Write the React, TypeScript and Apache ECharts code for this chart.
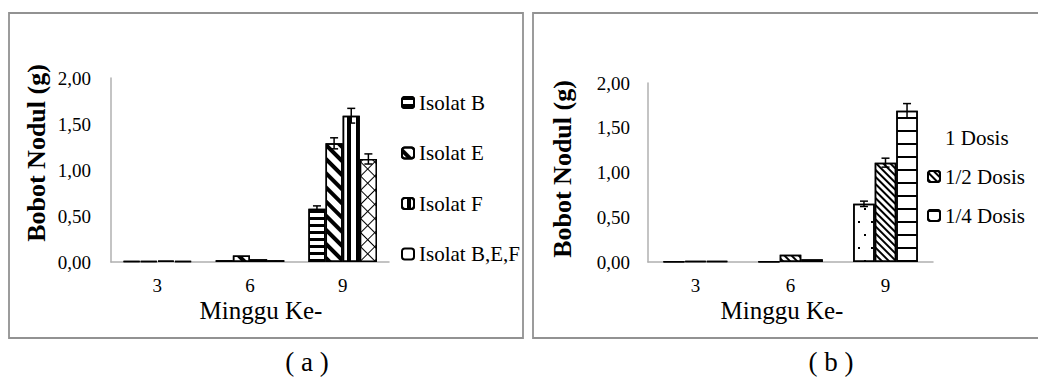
import React, { useEffect, useRef } from "react";
import * as echarts from "echarts";

const weeks = ["3", "6", "9"];

const seriesNamesA = ["Isolat B", "Isolat E", "Isolat F", "Isolat B,E,F"];
const isolatB = [0.01, 0.02, 0.58];
const isolatE = [0.01, 0.07, 1.29];
const isolatF = [0.015, 0.03, 1.59];
const isolatBEF = [0.01, 0.02, 1.12];
const errIsolatB = [0, 0, 0.03];
const errIsolatE = [0, 0, 0.06];
const errIsolatF = [0, 0, 0.08];
const errIsolatBEF = [0, 0, 0.055];

const seriesNamesB = ["1 Dosis", "1/2 Dosis", "1/4 Dosis"];
const dosis1 = [0.005, 0.003, 0.65];
const dosisHalf = [0.01, 0.08, 1.11];
const dosisQuarter = [0.01, 0.03, 1.69];
const errDosis1 = [0, 0, 0.03];
const errDosisHalf = [0, 0, 0.05];
const errDosisQuarter = [0, 0, 0.08];

const yTicks = [0, 0.5, 1, 1.5, 2];

const FONT = "Liberation Serif, Times New Roman, serif";

const gapA = 0.26;
const gapB = 0.32;

function errorSeries(
  name: string,
  axisIndex: number,
  values: number[][],
  errs: number[][],
  gap: number
) {
  const n = values.length;
  const data: number[][] = [];
  values.forEach((vals, i) => {
    vals.forEach((v, j) => {
      const e = errs[i][j];
      if (e > 0) data.push([j, v, e, i]);
    });
  });
  return {
    type: "custom",
    name,
    xAxisIndex: axisIndex,
    yAxisIndex: axisIndex,
    z: 10,
    silent: true,
    encode: { x: 0, y: 1 },
    data,
    renderItem: (params: any, api: any) => {
      const j = api.value(0);
      const v = api.value(1);
      const e = api.value(2);
      const i = api.value(3);
      const band = api.size([1, 0])[0];
      const group = band * (1 - gap);
      const bw = group / n;
      const base = api.coord([j, v]);
      const cx = base[0] - group / 2 + bw * (i + 0.5);
      const yTop = api.coord([j, v + e])[1];
      const yBot = api.coord([j, v - e])[1];
      const st = { stroke: "#000", lineWidth: 1.5 };
      return {
        type: "group",
        children: [
          { type: "line", shape: { x1: cx, y1: yTop, x2: cx, y2: yBot }, style: st },
          { type: "line", shape: { x1: cx - 4, y1: yTop, x2: cx + 4, y2: yTop }, style: st },
          { type: "line", shape: { x1: cx - 4, y1: yBot, x2: cx + 4, y2: yBot }, style: st },
        ],
      };
    },
  };
}

function barSeries(name: string, axisIndex: number, data: number[], gap: number, itemStyle: any) {
  return {
    type: "bar",
    name,
    xAxisIndex: axisIndex,
    yAxisIndex: axisIndex,
    data,
    barGap: "0%",
    barCategoryGap: `${gap * 100}%`,
    itemStyle: Object.assign({ borderColor: "#000", borderWidth: 1.5, color: "#fff" }, itemStyle),
  };
}

const decalHStripe = {
  symbol: "rect",
  symbolSize: 1,
  color: "#000",
  dashArrayX: [1, 0],
  dashArrayY: [3, 3.5],
};
const decalDiagThick = {
  symbol: "rect",
  symbolSize: 1,
  color: "#000",
  dashArrayX: [1, 0],
  dashArrayY: [4, 6],
  rotation: Math.PI / 4,
};
const decalVStripe = {
  symbol: "rect",
  symbolSize: 1,
  color: "#000",
  dashArrayX: [1, 0],
  dashArrayY: [4, 4.5],
  rotation: Math.PI / 2,
};
const decalCross = {
  symbol: "rect",
  symbolSize: 1,
  color: "#fff",
  dashArrayX: [9, 1],
  dashArrayY: [9, 1],
  rotation: Math.PI / 4,
};
const decalDots = {
  symbol: "rect",
  symbolSize: 1,
  color: "#000",
  dashArrayX: [
    [1.5, 10.5],
    [0, 6, 1.5, 4.5],
  ],
  dashArrayY: [1.5, 10.5],
};
const decalDiagThin = {
  symbol: "rect",
  symbolSize: 1,
  color: "#000",
  dashArrayX: [1, 0],
  dashArrayY: [1.5, 3],
  rotation: Math.PI / 4,
};
const decalHLines = {
  symbol: "rect",
  symbolSize: 1,
  color: "#000",
  dashArrayX: [1, 0],
  dashArrayY: [2, 10.5],
};

const fmt = (v: number) => v.toFixed(2).replace(".", ",");

function makeAxes(idx: number, labelMargin: number) {
  return {
    x: {
      type: "category",
      gridIndex: idx,
      data: weeks,
      axisTick: { show: false },
      axisLine: { show: true, lineStyle: { color: "#b0b0b0", width: 1.5 } },
      axisLabel: { fontFamily: FONT, fontSize: 19, color: "#000", margin: 14 },
    },
    y: {
      type: "value",
      gridIndex: idx,
      min: 0,
      max: 2,
      interval: 0.5,
      splitLine: { show: false },
      axisTick: { show: false },
      axisLine: { show: true, lineStyle: { color: "#b0b0b0", width: 1.5 } },
      axisLabel: {
        fontFamily: FONT,
        fontSize: 19,
        color: "#000",
        margin: labelMargin,
        formatter: (v: number) => (yTicks.includes(v) ? fmt(v) : ""),
      },
    },
  };
}

export default function App() {
  const ref = useRef<HTMLDivElement>(null);
  useEffect(() => {
    if (!ref.current) return;
    const chart = echarts.init(ref.current, null, { renderer: "svg" });
    const axA = makeAxes(0, 20);
    const axB = makeAxes(1, 18);
    const valuesA = [isolatB, isolatE, isolatF, isolatBEF];
    const errsA = [errIsolatB, errIsolatE, errIsolatF, errIsolatBEF];
    const valuesB = [dosis1, dosisHalf, dosisQuarter];
    const errsB = [errDosis1, errDosisHalf, errDosisQuarter];
    const titleStyle = { fontFamily: FONT, fontSize: 26, fontWeight: "bold", fill: "#000" };
    const plainText = { fontFamily: FONT, fill: "#000", align: "center", verticalAlign: "middle" };
    const option: any = {
      animation: false,
      backgroundColor: "#fff",
      textStyle: { fontFamily: FONT },
      grid: [
        { left: 111, top: 78, width: 278, height: 184 },
        { left: 648, top: 83, width: 285, height: 179 },
      ],
      xAxis: [axA.x, axB.x],
      yAxis: [axA.y, axB.y],
      legend: [
        {
          data: [
            seriesNamesA[0],
            seriesNamesA[1],
            seriesNamesA[2],
            { name: seriesNamesA[3], itemStyle: { color: "#fff", decal: "none" } },
          ],
          orient: "vertical",
          left: 396,
          top: 87,
          itemGap: 29.5,
          itemWidth: 12,
          itemHeight: 11,
          textStyle: { fontFamily: FONT, fontSize: 21, color: "#000" },
          selectedMode: false,
        },
        {
          data: [
            { name: seriesNamesB[0], itemStyle: { borderColor: "rgba(0,0,0,0)", borderWidth: 0, decal: "none" } },
            seriesNamesB[1],
            seriesNamesB[2],
          ],
          orient: "vertical",
          left: 922,
          top: 122,
          itemGap: 18,
          itemWidth: 12,
          itemHeight: 11,
          textStyle: { fontFamily: FONT, fontSize: 21, color: "#000" },
          selectedMode: false,
        },
      ],
      graphic: [
        { type: "rect", shape: { x: 9, y: 13, width: 514, height: 325 }, style: { fill: "none", stroke: "#929292", lineWidth: 1.8 }, silent: true },
        { type: "rect", shape: { x: 533, y: 13, width: 600, height: 325 }, style: { fill: "none", stroke: "#929292", lineWidth: 1.8 }, silent: true },
        { type: "text", x: 36, y: 153, rotation: Math.PI / 2, style: Object.assign({ text: "Bobot Nodul (g)", align: "center", verticalAlign: "middle" }, titleStyle) },
        { type: "text", x: 562, y: 169, rotation: Math.PI / 2, style: Object.assign({ text: "Bobot Nodul (g)", align: "center", verticalAlign: "middle" }, titleStyle) },
        { type: "text", x: 261, y: 310, style: Object.assign({ text: "Minggu Ke-", fontSize: 25 }, plainText) },
        { type: "text", x: 782, y: 310, style: Object.assign({ text: "Minggu Ke-", fontSize: 25 }, plainText) },
        { type: "text", x: 307, y: 362, style: Object.assign({ text: "( a )", fontSize: 27 }, plainText) },
        { type: "text", x: 831, y: 362, style: Object.assign({ text: "( b )", fontSize: 27 }, plainText) },
      ],
      series: [
        barSeries(seriesNamesA[0], 0, isolatB, gapA, { decal: decalHStripe }),
        barSeries(seriesNamesA[1], 0, isolatE, gapA, { decal: decalDiagThick }),
        barSeries(seriesNamesA[2], 0, isolatF, gapA, { decal: decalVStripe }),
        barSeries(seriesNamesA[3], 0, isolatBEF, gapA, { color: "#000", decal: decalCross }),
        barSeries(seriesNamesB[0], 1, dosis1, gapB, { decal: decalDots }),
        barSeries(seriesNamesB[1], 1, dosisHalf, gapB, { decal: decalDiagThin }),
        barSeries(seriesNamesB[2], 1, dosisQuarter, gapB, { decal: decalHLines }),
        errorSeries("errA", 0, valuesA, errsA, gapA),
        errorSeries("errB", 1, valuesB, errsB, gapB),
      ],
    };
    chart.setOption(option);
    return () => chart.dispose();
  }, []);
  return <div ref={ref} style={{ position: "absolute", left: 0, top: 0, width: 1038, height: 377 }} />;
}
